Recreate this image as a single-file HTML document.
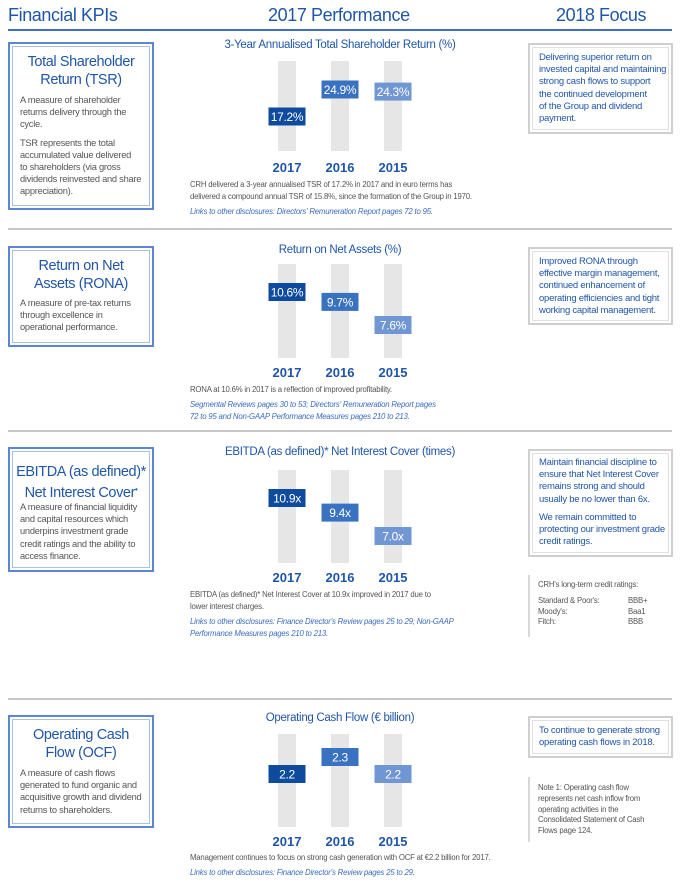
<!DOCTYPE html>
<html><head><meta charset="utf-8">
<style>
body{margin:0;width:680px;height:883px;background:#fff;position:relative;overflow:hidden;font-family:"Liberation Sans",sans-serif}
.a{position:absolute;margin:0}
.hd{font-size:18px;color:#1f56a8;top:5px;white-space:nowrap;letter-spacing:-0.4px}
.lbox{position:absolute;left:8px;width:142px;border:2px solid #5b86d4;box-shadow:inset 0 0 0 2px #fff,inset 0 0 0 3px #a9bfe6}
.lt{position:absolute;left:0;width:146px;text-align:center;font-size:14.5px;line-height:18px;color:#1f56a8;letter-spacing:-0.4px;white-space:nowrap}
.ld{position:absolute;left:20px;width:135px;font-size:9.3px;line-height:12.2px;color:#555;letter-spacing:-0.25px;white-space:nowrap}
.rbox{position:absolute;left:528px;width:141px;border:2px solid #cfcfcf;box-shadow:inset 0 0 0 2px #fff,inset 0 0 0 3px #e0e0e0}
.rt{position:absolute;left:539px;width:132px;font-size:9.5px;line-height:12.2px;color:#1f56a8;letter-spacing:-0.25px;white-space:nowrap}
.ct{position:absolute;left:190px;width:300px;text-align:center;font-size:11.5px;color:#1f56a8;letter-spacing:-0.3px}
.cap{position:absolute;left:190px;width:340px;font-size:7.8px;line-height:12px;color:#555;letter-spacing:-0.2px;white-space:nowrap}
.lk{position:absolute;left:190px;width:340px;font-size:7.8px;line-height:12px;color:#3a6cc0;font-style:italic;letter-spacing:-0.2px;white-space:nowrap}
.div{position:absolute;left:8px;width:664px;height:2px;background:#c8c8c8}
.note{position:absolute;left:528px;border-left:2px solid #d8d8d8}
.nt{position:absolute;left:538px;font-size:7.8px;line-height:10.8px;color:#555;width:135px;letter-spacing:-0.2px;white-space:nowrap}
</style></head><body>
<div class="a hd" style="left:8px">Financial KPIs</div>
<div class="a hd" style="left:268px">2017 Performance</div>
<div class="a hd" style="left:556px">2018 Focus</div>
<div class="a" style="left:8px;top:29px;width:664px;height:2px;background:#3d6fc4"></div>

<!-- Section 1 -->
<div class="lbox" style="top:42px;height:164px"></div>
<div class="lt" style="left:8px;top:53px">Total Shareholder<br>Return (TSR)</div>
<div class="ld" style="top:94px">A measure of shareholder<br>returns delivery through the<br>cycle.<div style="height:6px"></div>TSR represents the total<br>accumulated value delivered<br>to shareholders (via gross<br>dividends reinvested and share<br>appreciation).</div>
<div class="ct" style="top:39px">3-Year Annualised Total Shareholder Return (%)</div>
<svg class="a" id="c1" style="left:0;top:0" width="680" height="883"></svg>
<div class="cap" style="top:179px">CRH delivered a 3-year annualised TSR of 17.2% in 2017 and in euro terms has<br>delivered a compound annual TSR of 15.8%, since the formation of the Group in 1970.</div>
<div class="lk" style="top:206px">Links to other disclosures: Directors' Remuneration Report pages 72 to 95.</div>
<div class="rbox" style="top:43px;height:87px"></div>
<div class="rt" style="top:52px">Delivering superior return on<br>invested capital and maintaining<br>strong cash flows to support<br>the continued development<br>of the Group and dividend<br>payment.</div>
<div class="div" style="top:228px"></div>

<!-- Section 2 -->
<div class="lbox" style="top:246px;height:97px"></div>
<div class="lt" style="left:8px;top:257px">Return on Net<br>Assets (RONA)</div>
<div class="ld" style="top:297px">A measure of pre-tax returns<br>through excellence in<br>operational performance.</div>
<div class="ct" style="top:244px">Return on Net Assets (%)</div>
<div class="cap" style="top:384px">RONA at 10.6% in 2017 is a reflection of improved profitability.</div>
<div class="lk" style="top:399px">Segmental Reviews pages 30 to 53; Directors' Remuneration Report pages<br>72 to 95 and Non-GAAP Performance Measures pages 210 to 213.</div>
<div class="rbox" style="top:247px;height:74px"></div>
<div class="rt" style="top:256px">Improved RONA through<br>effective margin management,<br>continued enhancement of<br>operating efficiencies and tight<br>working capital management.</div>
<div class="div" style="top:430px"></div>

<!-- Section 3 -->
<div class="lbox" style="top:447px;height:121px"></div>
<div class="lt" style="left:8px;top:463px">EBITDA (as defined)*<br>Net Interest Cover<span style="font-size:8px;vertical-align:5px">•</span></div>
<div class="ld" style="top:501px">A measure of financial liquidity<br>and capital resources which<br>underpins investment grade<br>credit ratings and the ability to<br>access finance.</div>
<div class="ct" style="top:446px">EBITDA (as defined)* Net Interest Cover (times)</div>
<div class="cap" style="top:589px">EBITDA (as defined)* Net Interest Cover at 10.9x improved in 2017 due to<br>lower interest charges.</div>
<div class="lk" style="top:616px">Links to other disclosures: Finance Director's Review pages 25 to 29; Non-GAAP<br>Performance Measures pages 210 to 213.</div>
<div class="rbox" style="top:449px;height:104px"></div>
<div class="rt" style="top:457px">Maintain financial discipline to<br>ensure that Net Interest Cover<br>remains strong and should<br>usually be no lower than 6x.<div style="height:6px"></div>We remain committed to<br>protecting our investment grade<br>credit ratings.</div>
<div class="note" style="top:575px;height:62px"></div>
<div class="nt" style="top:580px">CRH's long-term credit ratings:<div style="height:5px"></div>
<div>Standard &amp; Poor's:<span style="position:absolute;left:90px">BBB+</span></div>
<div>Moody's:<span style="position:absolute;left:90px">Baa1</span></div>
<div>Fitch:<span style="position:absolute;left:90px">BBB</span></div></div>
<div class="div" style="top:698px"></div>

<!-- Section 4 -->
<div class="lbox" style="top:715px;height:109px"></div>
<div class="lt" style="left:8px;top:726px">Operating Cash<br>Flow (OCF)</div>
<div class="ld" style="top:767px">A measure of cash flows<br>generated to fund organic and<br>acquisitive growth and dividend<br>returns to shareholders.</div>
<div class="ct" style="top:712px">Operating Cash Flow (€ billion)</div>
<div class="cap" style="top:852px">Management continues to focus on strong cash generation with OCF at €2.2 billion for 2017.</div>
<div class="lk" style="top:867px">Links to other disclosures: Finance Director's Review pages 25 to 29.</div>
<div class="rbox" style="top:716px;height:38px"></div>
<div class="rt" style="top:725px">To continue to generate strong<br>operating cash flows in 2018.</div>
<div class="note" style="top:777px;height:65px"></div>
<div class="nt" style="top:783px">Note 1: Operating cash flow<br>represents net cash inflow from<br>operating activities in the<br>Consolidated Statement of Cash<br>Flows page 124.</div>

<script>
const years = ["2017","2016","2015"];
const tsrValues = [17.2, 24.9, 24.3];
const tsrLabels = ["17.2%","24.9%","24.3%"];
const ronaValues = [10.6, 9.7, 7.6];
const ronaLabels = ["10.6%","9.7%","7.6%"];
const ebitdaValues = [10.9, 9.4, 7.0];
const ebitdaLabels = ["10.9x","9.4x","7.0x"];
const ocfValues = [2.2, 2.3, 2.2];
const ocfLabels = ["2.2","2.3","2.2"];

const NS="http://www.w3.org/2000/svg";
const svg=document.getElementById('c1');
const xCenters=[287,340,393];
const boxColors=["#0e4b9e","#3a72c2","#7096d3"];
function mk(t,a){const e=document.createElementNS(NS,t);for(const k in a)e.setAttribute(k,a[k]);svg.appendChild(e);return e;}
function draw(key,vals,labels,top,bot,yearY,v1,y1,v2,y2){
  const yScale=v=>y1+(v-v1)*(y2-y1)/(v2-v1);
  vals.forEach((v,i)=>{
    const cx=xCenters[i];
    const tr=mk('rect',{x:cx-9,y:top,width:18,height:bot-top,fill:'#e6e6e6'});
    
    
    const cy=yScale(v);
    const b=mk('rect',{x:cx-18.5,y:cy-9,width:37,height:18,fill:boxColors[i]});
    
    
    const t=mk('text',{x:cx,y:cy+4.5,'text-anchor':'middle','font-size':'12','fill':'#fff','font-family':'Liberation Sans, sans-serif','letter-spacing':'-0.3'});
    t.textContent=labels[i];
    
    
    const yl=mk('text',{x:cx,y:yearY+5,'text-anchor':'middle','font-size':'13','font-weight':'bold','fill':'#1f56a8','font-family':'Liberation Sans, sans-serif'});
    yl.textContent=years[i];
    
    
  });
}
draw('tsr',tsrValues,tsrLabels,61,151,167,17.2,116.5,24.9,89.5);
draw('rona',ronaValues,ronaLabels,264,358,372,10.6,292,7.6,325);
draw('ebitda',ebitdaValues,ebitdaLabels,470,563,577,10.9,498,7.0,536);
draw('ocf',ocfValues,ocfLabels,734,827,841,2.2,774,2.3,757);
</script>
</body></html>
